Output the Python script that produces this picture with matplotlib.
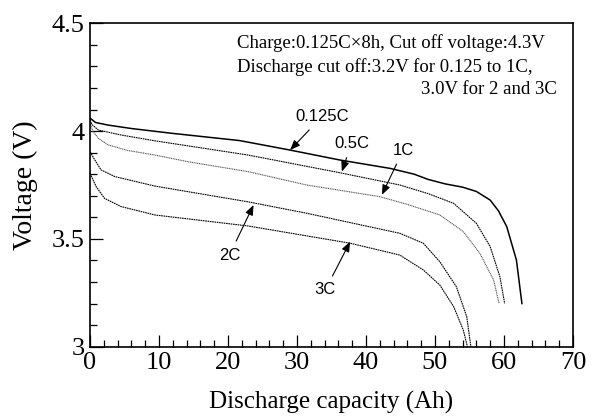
import matplotlib.pyplot as plt
from matplotlib.ticker import MultipleLocator

# discharge curves (capacity Ah, voltage V)
ah_0125 = [0, 0.8, 2.6, 6, 11.8, 21.7, 29, 36.2, 43.5, 47, 49, 51.5, 54, 56, 58, 59.2, 60.4, 61.8, 62.6]
v_0125 = [4.06, 4.04, 4.028, 4.012, 3.99, 3.956, 3.912, 3.866, 3.827, 3.80, 3.776, 3.755, 3.74, 3.72, 3.68, 3.63, 3.557, 3.402, 3.2]

ah_05 = [0, 0.3, 1.2, 4.5, 9.4, 22.9, 36.2, 44.9, 49, 52.7, 56, 58, 59.4, 60.1]
v_05 = [4.05, 4.03, 4.005, 3.982, 3.955, 3.889, 3.807, 3.75, 3.71, 3.665, 3.572, 3.464, 3.325, 3.2]

ah_1 = [0, 0.4, 1.2, 2.6, 5.5, 9.4, 14.2, 22.9, 31.4, 42, 46, 50.7, 54.1, 56.5, 58.5, 59.3]
v_1 = [4.04, 4.0, 3.967, 3.936, 3.91, 3.889, 3.858, 3.812, 3.75, 3.696, 3.66, 3.611, 3.534, 3.433, 3.309, 3.2]

ah_2 = [0, 0.7, 1.6, 3.6, 9.4, 22.9, 31.4, 44.9, 48.3, 50.7, 53.1, 54.6, 55.2]
v_2 = [3.904, 3.866, 3.82, 3.789, 3.745, 3.672, 3.619, 3.526, 3.48, 3.394, 3.278, 3.139, 3.0]

ah_3 = [0, 0.9, 2.1, 4.5, 9.4, 22.9, 37.7, 44.9, 48.3, 50.7, 52.7, 54.1, 54.7]
v_3 = [3.804, 3.742, 3.688, 3.65, 3.611, 3.56, 3.48, 3.425, 3.356, 3.286, 3.186, 3.077, 3.0]

labels = ['0.125C', '0.5C', '1C', '2C', '3C']
# label position and arrow tip (Ah, V)
label_xy = [(33.6, 4.067), (37.9, 3.943), (45.4, 3.912), (20.2, 3.425), (34.1, 3.263)]
tip_xy = [(29, 3.912), (36.5, 3.812), (42.3, 3.704), (23.7, 3.657), (37.7, 3.487)]

note_lines = ['Charge:0.125C\u00d78h, Cut off voltage:4.3V',
              'Discharge cut off:3.2V for 0.125 to 1C,',
              '3.0V for 2 and 3C']

serif = 'Liberation Serif'
sans = 'Liberation Sans'

fig = plt.figure(figsize=(5.95, 4.17), dpi=100)
ax = fig.add_axes([0.1513, 0.1686, 0.8117, 0.7755])

ax.plot(ah_0125, v_0125, color='black', lw=1.1, ls='-')
ax.plot(ah_05, v_05, color='black', lw=0.8, ls=(0, (1.5, 0.6)))
ax.plot(ah_1, v_1, color='#555555', lw=0.8, ls=(0, (1.0, 0.6)))
ax.plot(ah_2, v_2, color='black', lw=0.8, ls=(0, (1.5, 0.6)))
ax.plot(ah_3, v_3, color='black', lw=0.8, ls=(0, (1.5, 0.6)))

for lab, (tx, ty), (px, py) in zip(labels, label_xy, tip_xy):
    ax.annotate(lab, xy=(px, py), xytext=(tx, ty), family=sans, fontsize=12,
                ha='center', va='center',
                arrowprops=dict(arrowstyle='-|>,head_length=0.5,head_width=0.2',
                                color='black', lw=0.8, mutation_scale=12,
                                shrinkA=3, shrinkB=0))

ax.text(0.304, 0.939, note_lines[0], transform=ax.transAxes, family=serif,
        fontsize=13.5, va='center', ha='left')
ax.text(0.304, 0.865, note_lines[1], transform=ax.transAxes, family=serif,
        fontsize=13.5, va='center', ha='left')
ax.text(0.967, 0.794, note_lines[2], transform=ax.transAxes, family=serif,
        fontsize=13.5, va='center', ha='right')

ax.set_xlim(0, 70)
ax.set_ylim(3, 4.5)
ax.xaxis.set_major_locator(MultipleLocator(10))
ax.xaxis.set_minor_locator(MultipleLocator(2))
ax.yaxis.set_major_locator(MultipleLocator(0.5))
ax.yaxis.set_minor_locator(MultipleLocator(0.1))
ax.yaxis.set_major_formatter(plt.FuncFormatter(lambda v, p: f'{v:g}'))
ax.tick_params(which='both', direction='in', top=False, right=False, width=0.9)
ax.tick_params(which='major', length=9, labelsize=19, pad=4)
ax.tick_params(which='minor', length=5)
for t in ax.get_xticklabels() + ax.get_yticklabels():
    t.set_family(serif)
for s in ax.spines.values():
    s.set_linewidth(1.2)

ax.set_xlabel('Discharge capacity (Ah)', family=serif, fontsize=18, labelpad=12)
ax.set_ylabel('Voltage (V)', family=serif, fontsize=20, labelpad=10)

fig.savefig('out.png', dpi=100)
